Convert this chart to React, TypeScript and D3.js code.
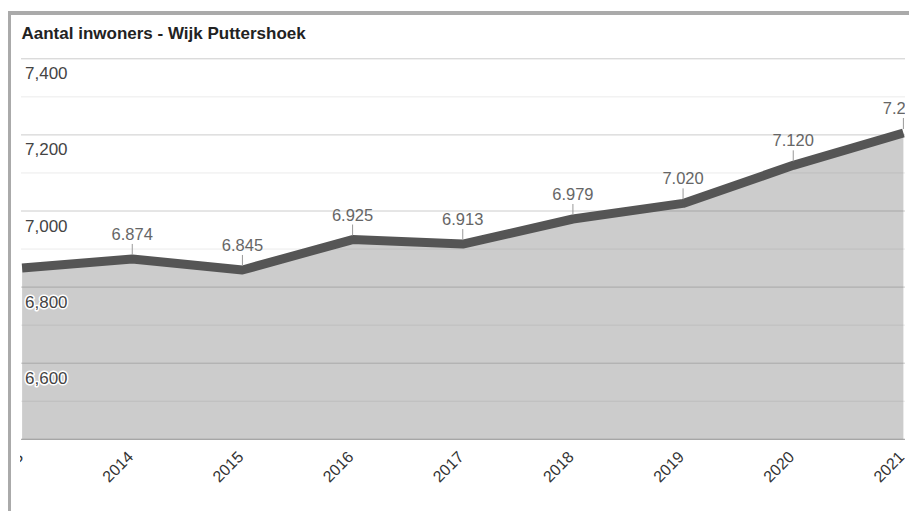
import React from 'react';
import * as d3 from 'd3';

const years = ['2013', '2014', '2015', '2016', '2017', '2018', '2019', '2020', '2021'];
const inwoners = [6850, 6874, 6845, 6925, 6913, 6979, 7020, 7120, 7205];
// 2013 has no visible annotation in the original
const annotated = ['2014', '2015', '2016', '2017', '2018', '2019', '2020', '2021'];
const majorTicks = [6400, 6600, 6800, 7000, 7200, 7400];
const minorTicks = [6500, 6700, 6900, 7100, 7300];

const W = 909;
const H = 511;
const plotLeft = 21;
const plotRight = 905;

const nl = d3.formatLocale({ decimal: ',', thousands: '.', grouping: [3], currency: ['€', ''] });
const fmtNl = nl.format(',d');
const fmtEn = d3.format(',d');

const App = () => {
  const x = d3.scalePoint<string>().domain(years).range([22.1, 903.4]);
  const y = d3.scaleLinear().domain([6400, 7400]).range([439.3, 58.8]);

  const pts = years.map((yr, i) => ({ yr, v: inwoners[i] }));

  const line = d3.line<{ yr: string; v: number }>()
    .x((d) => x(d.yr) as number)
    .y((d) => y(d.v));
  const area = d3.area<{ yr: string; v: number }>()
    .x((d) => x(d.yr) as number)
    .y0(y(6400))
    .y1((d) => y(d.v));

  const font = 'Arial, "Liberation Sans", sans-serif';

  return (
    <div>
      <style>{`body { margin: 0; }`}</style>
      <svg width={W} height={H} style={{ display: 'block', fontFamily: font }}>
        <defs>
          <clipPath id="plot">
            <rect x={plotLeft} y={40} width={plotRight - plotLeft} height={410} />
          </clipPath>
          <clipPath id="xlab">
            <rect x={20} y={440} width={plotRight - 20} height={71} />
          </clipPath>
        </defs>
        <rect x={0} y={0} width={W} height={H} fill="#fff" />
        {/* frame */}
        <rect x={8} y={11} width={W - 8} height={4} fill="#aaaaaa" />
        <rect x={8} y={11} width={3} height={H - 11} fill="#aaaaaa" />

        <text x={21.5} y={39} fontSize={17} fontWeight="bold" fill="#222">
          Aantal inwoners - Wijk Puttershoek
        </text>

        {minorTicks.map((t) => (
          <line key={'m' + t} x1={plotLeft} x2={plotRight} y1={y(t)} y2={y(t)} stroke="#ebebeb" strokeWidth={1} />
        ))}
        {majorTicks.map((t) => (
          <line key={'g' + t} x1={plotLeft} x2={plotRight} y1={y(t)} y2={y(t)}
            stroke={t === 6400 ? '#999' : '#cccccc'} strokeWidth={1} />
        ))}

        <g clipPath="url(#plot)">
          <path d={area(pts) as string} fill="#555" fillOpacity={0.3} />
          <path d={line(pts) as string} fill="none" stroke="#555" strokeWidth={9} strokeLinejoin="round" />
          {pts.filter((p) => annotated.includes(p.yr)).map((p) => (
            <g key={'a' + p.yr}>
              <line x1={x(p.yr)} x2={x(p.yr)} y1={y(p.v) - 15} y2={y(p.v) - 4} stroke="#999" strokeWidth={1} />
              <text x={x(p.yr)} y={y(p.v) - 19} textAnchor="middle" fontSize={16.5} fill="#666">
                {fmtNl(p.v)}
              </text>
            </g>
          ))}
        </g>

        {majorTicks.filter((t) => t > 6400).map((t) => (
          <text key={'y' + t} x={25} y={y(t) + 20.5} fontSize={17} fill="#444"
            stroke="#fff" strokeWidth={3} strokeLinejoin="round" style={{ paintOrder: 'stroke' }}>
            {fmtEn(t)}
          </text>
        ))}

        <g clipPath="url(#xlab)">
          {years.map((yr) => (
            <text key={'x' + yr} transform={`translate(${(x(yr) as number) + 2},458) rotate(-45)`}
              textAnchor="end" fontSize={16} fill="#333">
              {yr}
            </text>
          ))}
        </g>
      </svg>
    </div>
  );
};

export default App;
